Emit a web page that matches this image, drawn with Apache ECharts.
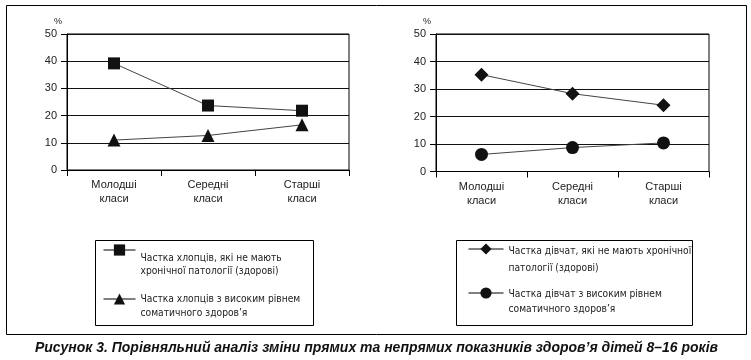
<!DOCTYPE html>
<html>
<head>
<meta charset="utf-8">
<script src="https://cdn.jsdelivr.net/npm/echarts@6/dist/echarts.min.js"></script>
<style>
html,body{margin:0;padding:0;background:#fff;}
#c{width:751px;height:360px;}
</style>
</head>
<body>
<div id="c"></div>
<script>
// ---- data ----
const categories = ['Молодші\nкласи', 'Середні\nкласи', 'Старші\nкласи'];
const yTicks = [0, 10, 20, 30, 40, 50];
const boysHealthy = [39.2, 23.7, 21.8];
const boysHighSomatic = [11.0, 12.7, 16.6];
const girlsHealthy = [35.2, 28.3, 24.1];
const girlsHighSomatic = [6.2, 8.7, 10.4];
const seriesNames = [
  'Частка хлопців, які не мають хронічної патології (здорові)',
  'Частка хлопців з високим рівнем соматичного здоров’я',
  'Частка дівчат, які не мають хронічної патології (здорові)',
  'Частка дівчат з високим рівнем соматичного здоров’я'
];
const legendLines = [
  ['Частка хлопців, які не мають', 'хронічної патології (здорові)'],
  ['Частка хлопців з високим рівнем', 'соматичного здоров’я'],
  ['Частка дівчат, які не мають хронічної', 'патології (здорові)'],
  ['Частка дівчат з високим рівнем', 'соматичного здоров’я']
];
const caption = 'Рисунок 3. Порівняльний аналіз зміни прямих та непрямих показників здоров’я дітей 8–16 років';

const narrow = '"DejaVu Sans Condensed", "Liberation Sans Narrow", sans-serif';
const sans = '"Liberation Sans", Arial, sans-serif';

function yAxis(gridIndex) {
  return {
    type: 'value', gridIndex: gridIndex, min: yTicks[0], max: yTicks[yTicks.length - 1], interval: 10,
    name: '%', nameLocation: 'end', nameGap: 8,
    nameTextStyle: { fontFamily: sans, fontSize: 9, color: '#222', align: 'right', padding: [0, 5, 0, 0] },
    axisLine: { show: true, lineStyle: { color: '#000', width: 1 } },
    axisTick: { show: true, inside: false, length: 6, lineStyle: { color: '#000' } },
    axisLabel: { fontFamily: sans, fontSize: 11, color: '#222', margin: 10 },
    splitLine: { show: true, lineStyle: { color: '#111', width: 1 } }
  };
}
function xAxis(gridIndex) {
  return {
    type: 'category', gridIndex: gridIndex, data: categories, boundaryGap: true,
    axisLine: { show: true, lineStyle: { color: '#000', width: 1 } },
    axisTick: { show: true, inside: false, length: 6, alignWithLabel: false, lineStyle: { color: '#000' } },
    axisLabel: { fontFamily: sans, fontSize: 11, color: '#222', margin: 8, lineHeight: 14 },
    splitLine: { show: false }
  };
}
function line(name, data, symbol, size, idx) {
  return {
    type: 'line', name: name, data: data, xAxisIndex: idx, yAxisIndex: idx,
    symbol: symbol, symbolSize: size, showSymbol: true,
    lineStyle: { color: '#444', width: 1 },
    itemStyle: { color: '#111' },
    emphasis: { disabled: true },
    animation: false, z: 3
  };
}
function legend(i, left, top, spacer, lh, iw) {
  return {
    data: [seriesNames[i]], orient: 'vertical', left: left, top: top, padding: 0,
    itemWidth: iw, itemHeight: 14, itemGap: 0, selectedMode: false,
    lineStyle: { color: '#000', width: 1 },
    formatter: function () { return '{s| }\n{t|' + legendLines[i][0] + '}\n{t|' + legendLines[i][1] + '}'; },
    textStyle: {
      fontFamily: narrow, fontSize: 10.2, color: '#222',
      rich: {
        s: { fontSize: 1, lineHeight: spacer },
        t: { fontFamily: narrow, fontSize: 10.2, color: '#222', lineHeight: lh }
      }
    }
  };
}

// caption horizontal compression to match the condensed original
const cFont = 'italic bold 15px "Liberation Sans", Arial, sans-serif';
const ctx = document.createElement('canvas').getContext('2d');
ctx.font = cFont;
const capScale = Math.min(1, 683 / ctx.measureText(caption).width);

const chart = echarts.init(document.getElementById('c'), null, { renderer: 'canvas' });
chart.setOption({
  animation: false,
  backgroundColor: '#fff',
  grid: [
    { left: 67, top: 34, width: 282, height: 136, show: true, borderColor: '#000', borderWidth: 1 },
    { left: 436, top: 34, width: 273, height: 137.5, show: true, borderColor: '#000', borderWidth: 1 }
  ],
  xAxis: [xAxis(0), xAxis(1)],
  yAxis: [yAxis(0), yAxis(1)],
  legend: [
    legend(0, 103, 236.5, 30, 13, 32),
    legend(1, 103, 284.5, 14, 14, 32),
    legend(2, 468, 231, 21.5, 17.5, 35),
    legend(3, 468, 277.5, 18, 15, 35)
  ],
  series: [
    line(seriesNames[0], boysHealthy, 'rect', 12, 0),
    line(seriesNames[1], boysHighSomatic, 'triangle', 13, 0),
    line(seriesNames[2], girlsHealthy, 'diamond', 14, 1),
    line(seriesNames[3], girlsHighSomatic, 'circle', 13, 1)
  ],
  graphic: [
    { type: 'rect', silent: true, shape: { x: 6.5, y: 5.5, width: 740, height: 329 }, style: { fill: 'none', stroke: '#000', lineWidth: 1 } },
    { type: 'rect', silent: true, shape: { x: 95.5, y: 240.5, width: 218, height: 85 }, style: { fill: 'none', stroke: '#000', lineWidth: 1 } },
    { type: 'rect', silent: true, shape: { x: 456.5, y: 240.5, width: 236, height: 85 }, style: { fill: 'none', stroke: '#000', lineWidth: 1 } },
    { type: 'text', silent: true, x: 376.5, y: 348, scaleX: capScale, style: { text: caption, fill: '#111', font: cFont, align: 'center', verticalAlign: 'middle' } }
  ]
});
</script>
</body>
</html>
